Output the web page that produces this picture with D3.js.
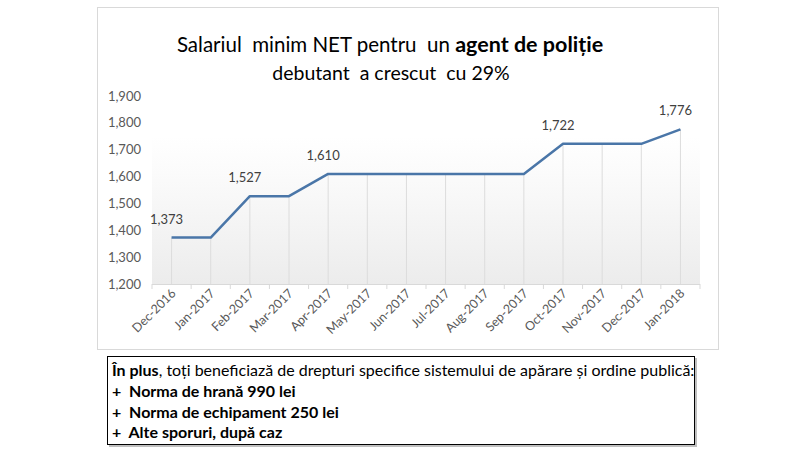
<!DOCTYPE html>
<html>
<head>
<meta charset="utf-8">
<script src="https://cdn.jsdelivr.net/npm/d3@7"></script>
<style>
  body { margin: 0; background: #fff; }
  svg { font-family: Lato, "Open Sans", sans-serif; }
  svg text { white-space: pre; }
</style>
</head>
<body>
<div id="chart"></div>
<script>
// Données
const months = ["Dec-2016", "Jan-2017", "Feb-2017", "Mar-2017", "Apr-2017", "May-2017", "Jun-2017",
  "Jul-2017", "Aug-2017", "Sep-2017", "Oct-2017", "Nov-2017", "Dec-2017", "Jan-2018"];
const salary = [1373, 1373, 1527, 1527, 1610, 1610, 1610, 1610, 1610, 1610, 1722, 1722, 1722, 1776];
const labelled = [0, 2, 4, 10, 13];
const yTicks = [1200, 1300, 1400, 1500, 1600, 1700, 1800, 1900];
const notes = [
  "+  Norma de hrană 990 lei",
  "+  Norma de echipament 250 lei",
  "+  Alte sporuri, după caz"
];

const width = 800;
const height = 450;

const svg = d3.select("#chart")
  .append("svg")
  .attr("width", width)
  .attr("height", height);

const defs = svg.append("defs");
const grad = defs.append("linearGradient")
  .attr("id", "plotfill")
  .attr("x1", 0).attr("y1", 0).attr("x2", 0).attr("y2", 1);
grad.append("stop").attr("offset", "0%").attr("stop-color", "#ffffff");
grad.append("stop").attr("offset", "25%").attr("stop-color", "#fbfbfb");
grad.append("stop").attr("offset", "100%").attr("stop-color", "#ececec");

// cadre du graphique
svg.append("rect")
  .attr("x", 97.5).attr("y", 7.5)
  .attr("width", 621).attr("height", 342)
  .attr("fill", "#fff")
  .attr("stroke", "#d9d9d9");

const x = d3.scalePoint()
  .domain(months)
  .range([152, 700])
  .padding(0.5);

const y = d3.scaleLinear()
  .domain([1200, 1900])
  .range([284, 96]);

// fond du plot (dégradé)
svg.append("rect")
  .attr("x", 152).attr("y", y(1750))
  .attr("width", 548).attr("height", y(1200) - y(1750))
  .attr("fill", "url(#plotfill)");

// titre
const title = svg.append("text")
  .attr("x", 390).attr("y", 52)
  .attr("text-anchor", "middle")
  .attr("font-size", 20.5)
  .attr("fill", "#000");
title.append("tspan").text("Salariul  minim NET pentru  un ");
title.append("tspan").attr("font-weight", "bold").attr("font-size", 21.5).text("agent de poliție");

svg.append("text")
  .attr("x", 391).attr("y", 80)
  .attr("text-anchor", "middle")
  .attr("font-size", 19.5)
  .attr("fill", "#000")
  .text("debutant  a crescut  cu 29%");

// axe Y (libellés seulement)
svg.append("g")
  .selectAll("text")
  .data(yTicks)
  .join("text")
  .attr("x", 141)
  .attr("y", d => y(d))
  .attr("dy", "0.35em")
  .attr("text-anchor", "end")
  .attr("font-size", 13)
  .attr("fill", "#595959")
  .text(d => d3.format(",")(d));

// lignes de rappel
svg.append("g")
  .selectAll("line")
  .data(months)
  .join("line")
  .attr("x1", d => x(d)).attr("x2", d => x(d))
  .attr("y1", (d, i) => y(salary[i]))
  .attr("y2", y(1200))
  .attr("stroke", "#dcdcdc");

// axe X
const step = x.step();
svg.append("line")
  .attr("x1", 152).attr("x2", 700)
  .attr("y1", y(1200) + 0.5).attr("y2", y(1200) + 0.5)
  .attr("stroke", "#d9d9d9");

svg.append("g")
  .selectAll("line")
  .data(d3.range(months.length + 1))
  .join("line")
  .attr("x1", i => 152 + i * step).attr("x2", i => 152 + i * step)
  .attr("y1", y(1200)).attr("y2", y(1200) + 5)
  .attr("stroke", "#d9d9d9");

svg.append("g")
  .selectAll("text")
  .data(months)
  .join("text")
  .attr("transform", d => `translate(${x(d) + 5},${y(1200) + 10}) rotate(-45)`)
  .attr("text-anchor", "end")
  .attr("font-size", 12.5)
  .attr("fill", "#595959")
  .text(d => d);

// la courbe
const line = d3.line()
  .x((d, i) => x(months[i]))
  .y(d => y(d));

svg.append("path")
  .datum(salary)
  .attr("d", line)
  .attr("fill", "none")
  .attr("stroke", "#4a76a8")
  .attr("stroke-width", 2.5)
  .attr("stroke-linejoin", "round");

// étiquettes de valeurs
svg.append("g")
  .selectAll("text")
  .data(labelled)
  .join("text")
  .attr("x", i => x(months[i]) - 5)
  .attr("y", i => y(salary[i]) - 14)
  .attr("text-anchor", "middle")
  .attr("font-size", 13)
  .attr("fill", "#404040")
  .text(i => d3.format(",")(salary[i]));

// encadré du bas
svg.append("rect")
  .attr("x", 109).attr("y", 358)
  .attr("width", 588).attr("height", 89)
  .attr("fill", "#bfbfbf");
svg.append("rect")
  .attr("x", 107.5).attr("y", 356.5)
  .attr("width", 587).attr("height", 88)
  .attr("fill", "#fff")
  .attr("stroke", "#000");

const box = svg.append("g")
  .attr("font-size", 16)
  .attr("fill", "#000");

const first = box.append("text").attr("x", 112).attr("y", 376);
first.append("tspan").attr("font-weight", "bold").text("În plus");
first.append("tspan").text(", toți beneficiază de drepturi specifice sistemului de apărare și ordine publică:");

box.selectAll("text.note")
  .data(notes)
  .join("text")
  .attr("class", "note")
  .attr("x", 112)
  .attr("y", (d, i) => 397 + i * 20.5)
  .attr("font-weight", "bold")
  .text(d => d);
</script>
</body>
</html>
